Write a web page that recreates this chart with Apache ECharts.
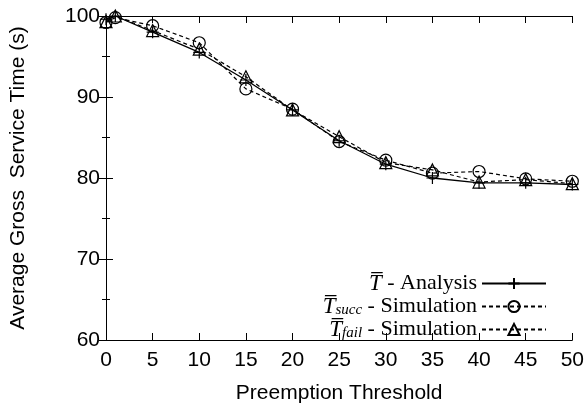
<!DOCTYPE html>
<html>
<head>
<meta charset="utf-8">
<script src="https://cdn.jsdelivr.net/npm/echarts@6/dist/echarts.min.js"></script>
<style>
html,body{margin:0;padding:0;background:#fff;}
#chart{width:587px;height:409px;}
</style>
</head>
<body>
<div id="chart"></div>
<script>
// Data
var thresholds = [0, 1, 5, 10, 15, 20, 25, 30, 35, 40, 45, 50];
var analysis   = [99.6, 100.0, 98.0, 95.5, 92.1, 88.4, 84.6, 81.7, 80.0, 79.4, 79.4, 79.2];
var simSucc    = [99.2, 99.8, 98.8, 96.7, 91.0, 88.5, 84.5, 82.2, 80.6, 80.8, 79.9, 79.6];
var simFail    = [99.3, 100.0, 98.2, 95.9, 92.5, 88.4, 85.1, 81.9, 81.0, 79.5, 79.8, 79.3];
var xTicks = [0, 5, 10, 15, 20, 25, 30, 35, 40, 45, 50];
var yTicks = [60, 70, 80, 90, 100];

var xTitle = 'Preemption Threshold';
var yTitle = 'Average Gross  Service Time (s)';
var names = ['analysis', 'succ', 'fail'];

function pairs(ys) { return thresholds.map(function (x, i) { return [x, ys[i]]; }); }

var sans = '"Liberation Sans", Arial, Helvetica, sans-serif';
var serif = '"Liberation Serif", "Times New Roman", serif';
var plusPath = 'path://M0,6L12,6M6,0L6,12';

var hollow = { color: 'rgba(0,0,0,0)', borderColor: '#000', borderWidth: 1.2 };

var chart = echarts.init(document.getElementById('chart'), null, { renderer: 'canvas' });
var axisLine = { show: true, lineStyle: { color: '#000', width: 1 } };
chart.setOption({
  animation: false,
  backgroundColor: '#fff',
  grid: { left: 106, right: 14, top: 16, bottom: 65, containLabel: false },
  xAxis: [{
    type: 'value', min: xTicks[0], max: xTicks[xTicks.length - 1], interval: 5,
    position: 'bottom',
    name: xTitle, nameLocation: 'middle', nameGap: 43,
    nameTextStyle: { fontFamily: sans, fontSize: 21, color: '#000' },
    axisLine: axisLine,
    axisTick: { show: true, inside: true, length: 7, lineStyle: { color: '#000' } },
    axisLabel: { fontFamily: sans, fontSize: 21, color: '#000', margin: 10 },
    splitLine: { show: false }
  }, {
    type: 'value', min: xTicks[0], max: xTicks[xTicks.length - 1], interval: 5,
    position: 'top',
    axisLine: axisLine,
    axisTick: { show: true, inside: true, length: 7, lineStyle: { color: '#000' } },
    axisLabel: { show: false },
    splitLine: { show: false }
  }],
  yAxis: [{
    type: 'value', min: yTicks[0], max: yTicks[yTicks.length - 1], interval: 10,
    position: 'left',
    name: yTitle, nameLocation: 'middle', nameGap: 77,
    nameTextStyle: { fontFamily: sans, fontSize: 21, color: '#000' },
    axisLine: axisLine,
    axisTick: { show: true, inside: true, length: 7, lineStyle: { color: '#000' } },
    minorTick: { show: true, splitNumber: 2, length: 4, lineStyle: { color: '#000' } },
    axisLabel: { fontFamily: sans, fontSize: 21, color: '#000', margin: 6 },
    splitLine: { show: false }, minorSplitLine: { show: false }
  }, {
    type: 'value', min: yTicks[0], max: yTicks[yTicks.length - 1], interval: 10,
    position: 'right',
    axisLine: axisLine,
    axisTick: { show: true, inside: true, length: 7, lineStyle: { color: '#000' } },
    minorTick: { show: true, splitNumber: 2, length: 4, lineStyle: { color: '#000' } },
    axisLabel: { show: false },
    splitLine: { show: false }, minorSplitLine: { show: false }
  }],
  legend: {
    orient: 'vertical', right: 35, top: 267, align: 'right',
    itemWidth: 64, itemHeight: 14, itemGap: 0,
    selectedMode: false,
    data: names,
    formatter: function (n) {
      if (n === 'analysis') return '{t|T\u0305}{n| - Analysis}';
      if (n === 'succ') return '{t|T\u0305}{s|succ}{n| - Simulation}';
      return '{t|T\u0305}{s|fail}{n| - Simulation}';
    },
    textStyle: {
      color: '#000', fontFamily: serif, fontSize: 22, lineHeight: 22,
      rich: {
        t: { fontFamily: serif, fontStyle: 'italic', fontSize: 23, lineHeight: 22, color: '#000' },
        s: { fontFamily: serif, fontStyle: 'italic', fontSize: 15, lineHeight: 14, verticalAlign: 'bottom', color: '#000' },
        n: { fontFamily: serif, fontSize: 22, lineHeight: 22, color: '#000' }
      }
    }
  },
  series: [{
    name: 'analysis', type: 'line', data: pairs(analysis),
    symbol: plusPath, symbolSize: 12,
    itemStyle: hollow,
    lineStyle: { color: '#000', width: 1.3, type: 'solid' }
  }, {
    name: 'succ', type: 'line', data: pairs(simSucc),
    symbol: 'circle', symbolSize: 12,
    itemStyle: hollow,
    lineStyle: { color: '#000', width: 1.2, type: [4, 3] }
  }, {
    name: 'fail', type: 'line', data: pairs(simFail),
    symbol: 'triangle', symbolSize: 12,
    itemStyle: hollow,
    lineStyle: { color: '#000', width: 1.2, type: [4, 3] }
  }]
});
</script>
</body>
</html>
